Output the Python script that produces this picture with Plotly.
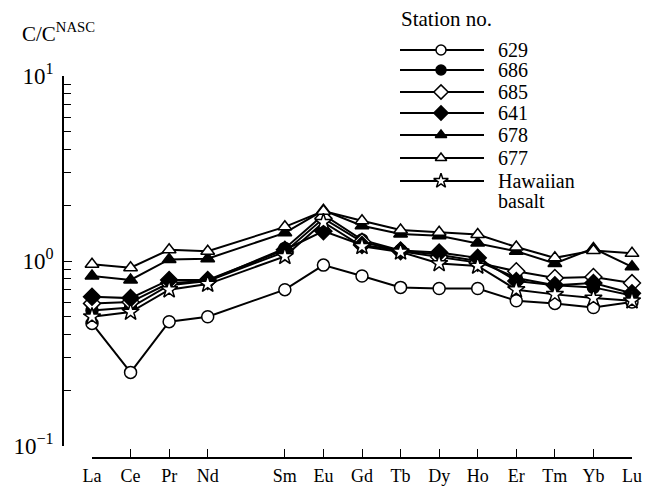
import plotly.graph_objects as go

# ---- data ----
elements = ["La", "Ce", "Pr", "Nd", "Sm", "Eu", "Gd", "Tb", "Dy", "Ho", "Er", "Tm", "Yb", "Lu"]
atomic_numbers = [57, 58, 59, 60, 62, 63, 64, 65, 66, 67, 68, 69, 70, 71]

s629 = [0.46, 0.25, 0.47, 0.50, 0.70, 0.95, 0.83, 0.72, 0.71, 0.71, 0.61, 0.59, 0.56, 0.60]
s686 = [0.54, 0.56, 0.74, 0.78, 1.17, 1.78, 1.30, 1.14, 1.08, 1.00, 0.81, 0.74, 0.72, 0.65]
s685 = [0.59, 0.60, 0.76, 0.78, 1.12, 1.70, 1.27, 1.13, 1.05, 0.98, 0.88, 0.81, 0.82, 0.76]
s641 = [0.64, 0.63, 0.79, 0.79, 1.15, 1.45, 1.22, 1.14, 1.11, 1.04, 0.78, 0.74, 0.76, 0.67]
s678 = [0.83, 0.79, 1.02, 1.03, 1.42, 1.88, 1.55, 1.40, 1.37, 1.25, 1.13, 0.97, 1.17, 0.93]
s677 = [0.96, 0.92, 1.15, 1.13, 1.53, 1.86, 1.65, 1.47, 1.43, 1.39, 1.19, 1.04, 1.14, 1.10]
hawaiian = [0.50, 0.53, 0.70, 0.75, 1.06, 1.62, 1.20, 1.12, 0.97, 0.94, 0.70, 0.66, 0.63, 0.61]

series_names = ["629", "686", "685", "641", "678", "677", "Hawaiian basalt"]
series_values = [s629, s686, s685, s641, s678, s677, hawaiian]

# ---- styles ----
W, H = 650, 489
FONT = "Liberation Serif, Times New Roman, serif"
styles = [
    dict(symbol="circle", color="white", size=12),
    dict(symbol="circle", color="black", size=12),
    dict(symbol="diamond", color="white", size=13),
    dict(symbol="diamond", color="black", size=13),
    dict(symbol="triangle-up", color="black", size=12),
    dict(symbol="triangle-up", color="white", size=12),
    dict(symbol="star", color="white", size=13),
]

fig = go.Figure()
for name, vals, st in zip(series_names, series_values, styles):
    fig.add_trace(go.Scatter(
        x=atomic_numbers, y=vals, mode="lines+markers", name=name,
        line=dict(color="black", width=2),
        marker=dict(symbol=st["symbol"], color=st["color"], size=st["size"],
                    line=dict(color="black", width=1.5)),
        cliponaxis=False, showlegend=False,
    ))

# ---- custom legend drawn on a pixel-coordinate overlay axis ----
leg_rows = [50, 70, 92, 113, 135, 158, 181]
leg_x0, leg_xm, leg_x1, leg_tx = 400, 441, 484, 496
for name, st, ry in zip(series_names, styles, leg_rows):
    fig.add_trace(go.Scatter(x=[leg_x0, leg_x1], y=[ry, ry], mode="lines",
                             line=dict(color="black", width=2),
                             xaxis="x2", yaxis="y2", showlegend=False, hoverinfo="skip"))
    fig.add_trace(go.Scatter(x=[leg_xm], y=[ry], mode="markers",
                             marker=dict(symbol=st["symbol"], color=st["color"],
                                         size=st["size"] - 2, line=dict(color="black", width=1.5)),
                             xaxis="x2", yaxis="y2", showlegend=False, hoverinfo="skip"))

leg_labels = ["629", "686", "685", "641", "678", "677", "Hawaiian"]
tfont = dict(size=20, family=FONT, color="black")
annotations = []
for lab, ry in zip(leg_labels, leg_rows):
    annotations.append(dict(x=leg_tx, y=ry, xref="x2", yref="y2", text=lab, showarrow=False,
                            xanchor="left", yanchor="middle", font=tfont))
annotations.append(dict(x=leg_tx, y=201, xref="x2", yref="y2", text="basalt", showarrow=False,
                        xanchor="left", yanchor="middle", font=tfont))
annotations.append(dict(x=399, y=19, xref="x2", yref="y2", text="Station no.", showarrow=False,
                        xanchor="left", yanchor="middle", font=dict(size=21, family=FONT, color="black")))
annotations.append(dict(x=20, y=32, xref="x2", yref="y2", text="C/C<sup>NASC</sup>", showarrow=False,
                        xanchor="left", yanchor="middle", font=dict(size=21, family=FONT, color="black")))

# axis geometry (pixels)
x_left, x_right = 92, 632
y_top, y_bot = 76, 446
x_axis_y = 458
y_axis_x = 63

minor_vals = [v * m for v in (0.1, 1) for m in range(2, 10)]

fig.update_layout(
    width=W, height=H,
    margin=dict(l=0, r=0, t=0, b=0),
    paper_bgcolor="white", plot_bgcolor="rgba(0,0,0,0)",
    font=dict(family=FONT, color="black"),
    xaxis=dict(
        domain=[x_left / W, x_right / W], range=[57, 71],
        anchor="free", position=(H - x_axis_y) / H,
        tickmode="array", tickvals=atomic_numbers, ticktext=elements,
        ticks="inside", ticklen=8, tickwidth=1.3, tickcolor="black",
        showline=True, linecolor="black", linewidth=1.5,
        showgrid=False, zeroline=False, automargin=False,
        tickfont=dict(size=18, family=FONT, color="black"), ticklabelstandoff=2,
    ),
    yaxis=dict(
        type="log", domain=[(H - y_bot) / H, (H - y_top) / H], range=[-1, 1],
        anchor="free", position=y_axis_x / W,
        tickmode="array", tickvals=[0.1, 1, 10],
        ticktext=["10<sup>−1</sup>", "10<sup>0</sup>", "10<sup>1</sup>"],
        ticks="inside", ticklen=8, tickwidth=1.3, tickcolor="black",
        minor=dict(tickmode="array", tickvals=minor_vals, ticks="inside", ticklen=7,
                   tickwidth=1.3, tickcolor="black", showgrid=False),
        showline=True, linecolor="black", linewidth=1.5,
        showgrid=False, zeroline=False, automargin=False,
        tickfont=dict(size=23, family=FONT, color="black"), ticklabelstandoff=4,
    ),
    xaxis2=dict(domain=[0, 1], range=[0, W], visible=False, anchor="y2", fixedrange=True),
    yaxis2=dict(domain=[0, 1], range=[H, 0], visible=False, anchor="x2", fixedrange=True),
    annotations=annotations,
    showlegend=False,
)

fig.write_html("out.html")
